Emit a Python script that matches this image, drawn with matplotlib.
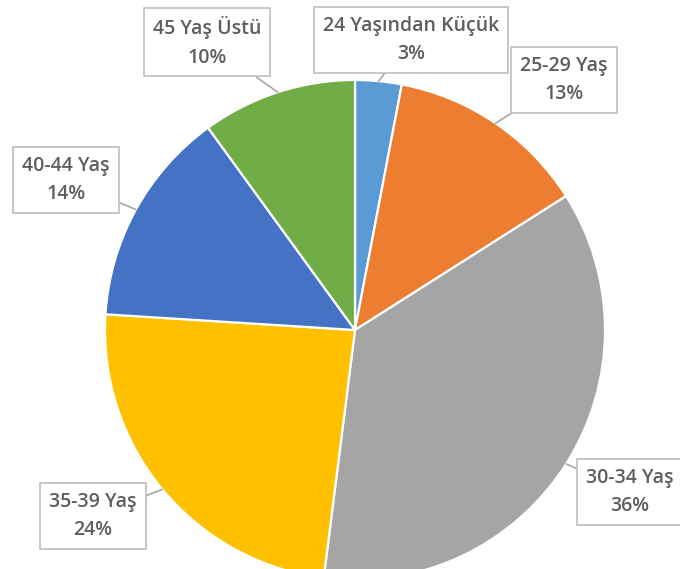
import matplotlib

matplotlib.use("Agg")
import matplotlib.pyplot as plt  # noqa: E402
import numpy as np  # noqa: E402

# age groups of the respondents (share, %)
labels = ["24 Yaşından Küçük", "25-29 Yaş", "30-34 Yaş", "35-39 Yaş", "40-44 Yaş", "45 Yaş Üstü"]
shares = [3, 13, 36, 24, 14, 10]
colors = ["#5B9BD5", "#ED7D31", "#A5A5A5", "#FFC000", "#4472C4", "#70AD47"]

# callout box centres in pixel space (x from left, y from top)
box_pos = [(411, 40), (564, 80), (630, 492), (93, 516), (66, 180), (207, 42)]

W, H = 680, 569
CX, CY, R = 355, 330, 250

plt.rcParams["font.family"] = ["Open Sans", "DejaVu Sans"]

fig = plt.figure(figsize=(W / 100, H / 100), dpi=100)
ax = fig.add_axes([0, 0, 1, 1])

wedges, _ = ax.pie(shares, colors=colors, startangle=90, counterclock=False,
                   center=(CX, H - CY), radius=R, frame=True,
                   wedgeprops=dict(edgecolor="white", linewidth=1.6))
ax.set_xlim(0, W)
ax.set_ylim(0, H)
ax.set_aspect("equal")
ax.axis("off")

for w, lab, val, (bx, by) in zip(wedges, labels, shares, box_pos):
    mid = np.deg2rad((w.theta1 + w.theta2) / 2)
    tip = (w.center[0] + w.r * np.cos(mid), w.center[1] + w.r * np.sin(mid))
    ax.annotate(f"{lab}\n{val}%", xy=tip, xytext=(bx, H - by),
                ha="center", va="center", fontsize=14, color="#5E5E5E",
                fontweight="semibold", linespacing=1.55, zorder=5,
                bbox=dict(boxstyle="square,pad=0.45", fc="white", ec="#BFBFBF", lw=1.2),
                arrowprops=dict(arrowstyle="-", color="#A6A6A6", lw=1.2,
                                shrinkA=0, shrinkB=0))

fig.savefig("out.png", dpi=100, facecolor="white")
